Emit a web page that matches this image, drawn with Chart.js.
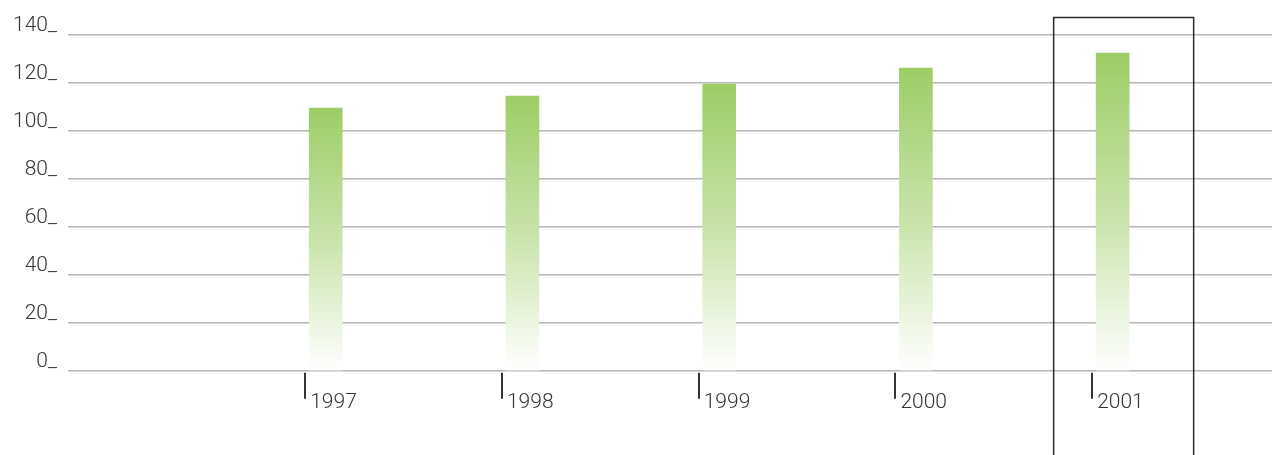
<!DOCTYPE html>
<html>
<head>
<meta charset="utf-8">
<script src="https://cdn.jsdelivr.net/npm/chart.js@4/dist/chart.umd.min.js"></script>
<style>
    html, body { margin: 0; padding: 0; background: #fff; }
    #wrap { width: 1272px; height: 455px; position: relative; }
</style>
</head>
<body>
<div id="wrap"><canvas id="chart"></canvas></div>
<script>
// Values
const years = [1997, 1998, 1999, 2000, 2001];
const values = [109.5, 114.5, 119.5, 126.2, 132.5];
const yTicks = [0, 20, 40, 60, 80, 100, 120, 140];
const highlightYear = 2001;

const textColor = '#333333';
const gridColor = '#b6b6b6';

// gradient from the top of each bar down to the zero line
function barGradient(context) {
    const chart = context.chart;
    const {ctx, chartArea, scales} = chart;
    if (!chartArea || context.type !== 'data') return '#9dcd66';
    const top = scales.y.getPixelForValue(context.raw.y);
    const base = scales.y.getPixelForValue(0);
    const g = ctx.createLinearGradient(0, top, 0, base);
    g.addColorStop(0, '#9dcd66');
    g.addColorStop(0.5, '#c8e3a9');
    g.addColorStop(1, '#ffffff');
    return g;
}

// tick marks to the left of each bar, plus the box round the highlighted year
const decorations = {
    id: 'decorations',
    afterDraw(chart) {
        const {ctx, scales} = chart;
        const x = scales.x, y = scales.y;
        const base = y.getPixelForValue(0);
        ctx.save();
        ctx.strokeStyle = textColor;
        ctx.lineWidth = 2;
        years.forEach(yr => {
            const px = Math.round(x.getPixelForValue(yr) - 20.5);
            ctx.beginPath();
            ctx.moveTo(px, base + 2);
            ctx.lineTo(px, base + 28);
            ctx.stroke();
        });
        const cx = x.getPixelForValue(highlightYear);
        ctx.lineWidth = 1.5;
        ctx.strokeStyle = '#2a2a2a';
        ctx.strokeRect(cx - 59, 17.5, 140, 460);
        ctx.restore();
    }
};

new Chart(document.getElementById('chart'), {
    type: 'bar',
    data: {
        datasets: [{
            data: years.map((yr, i) => ({x: yr, y: values[i]})),
            backgroundColor: barGradient,
            borderWidth: 0,
            barThickness: 33
        }]
    },
    options: {
        responsive: true,
        maintainAspectRatio: false,
        animation: false,
        layout: { padding: { top: 35, right: 0, bottom: 21, left: 0 } },
        plugins: {
            legend: { display: false },
            tooltip: { enabled: false }
        },
        scales: {
            x: {
                type: 'linear',
                offset: false,
                min: 1995.69,
                max: 2001.81,
                border: { display: false },
                grid: { display: false, drawTicks: false },
                afterBuildTicks: scale => { scale.ticks = years.map(v => ({value: v})); },
                ticks: {
                    align: 'start',
                    labelOffset: -15.5,
                    padding: 19,
                    color: textColor,
                    font: { family: 'Roboto', weight: '300', size: 21 },
                    callback: v => String(v)
                }
            },
            y: {
                min: 0,
                max: 140,
                border: { display: false },
                afterFit: scale => { scale.width = 68; },
                afterBuildTicks: scale => { scale.ticks = yTicks.map(v => ({value: v})); },
                grid: { color: gridColor, lineWidth: 1.5, drawTicks: false },
                ticks: {
                    padding: 11,
                    labelOffset: -9,
                    color: textColor,
                    font: { family: 'Roboto', weight: '300', size: 21 },
                    callback: v => v + '_'
                }
            }
        }
    },
    plugins: [decorations]
});
</script>
</body>
</html>
